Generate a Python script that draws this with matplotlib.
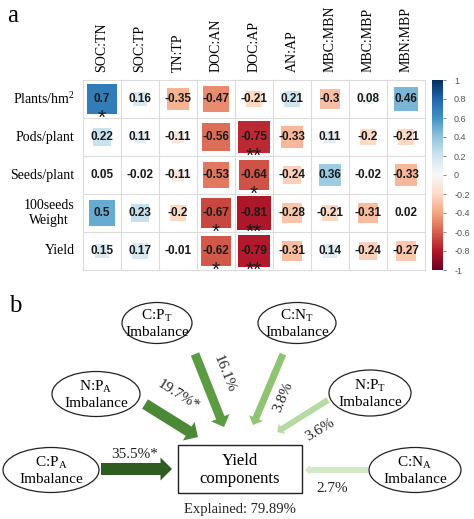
"""
Correlation squares (a) and contribution diagram (b)
"""
import numpy as np
import matplotlib
matplotlib.use('Agg')
import matplotlib.pyplot as plt
from matplotlib.patches import Rectangle, Ellipse, FancyArrow
from matplotlib.colors import Normalize
from matplotlib.cm import ScalarMappable

### Panel a data
row_names = ['Plants/hm$^2$', 'Pods/plant', 'Seeds/plant', '100seeds\nWeight', 'Yield']
col_names = ['SOC:TN', 'SOC:TP', 'TN:TP', 'DOC:AN', 'DOC:AP',
             'AN:AP', 'MBC:MBN', 'MBC:MBP', 'MBN:MBP']
corr_plants = [0.7, 0.16, -0.35, -0.47, -0.21, 0.21, -0.3, 0.08, 0.46]
corr_pods = [0.22, 0.11, -0.11, -0.56, -0.75, -0.33, 0.11, -0.2, -0.21]
corr_seeds = [0.05, -0.02, -0.11, -0.53, -0.64, -0.24, 0.36, -0.02, -0.33]
corr_100w = [0.5, 0.23, -0.2, -0.67, -0.81, -0.28, -0.21, -0.31, 0.02]
corr_yield = [0.15, 0.17, -0.01, -0.62, -0.79, -0.31, 0.14, -0.24, -0.27]
# (row, col, stars)
signif = [(0, 0, '*'), (1, 4, '**'), (2, 4, '*'), (3, 3, '*'), (3, 4, '**'),
          (4, 3, '*'), (4, 4, '**')]

### Panel b data
node_names = ['C:P$_{\\rm A}$', 'N:P$_{\\rm A}$', 'C:P$_{\\rm T}$',
              'C:N$_{\\rm T}$', 'N:P$_{\\rm T}$', 'C:N$_{\\rm A}$']
contrib = [35.5, 19.7, 16.1, 3.8, 3.6, 2.7]
contrib_sig = ['*', '*', '', '', '', '']
explained = 79.89

SERIF = 'Liberation Serif'
SANS = 'Liberation Sans'


def main():
    plt.rcParams['mathtext.fontset'] = 'custom'
    plt.rcParams['mathtext.rm'] = SERIF
    plt.rcParams['mathtext.it'] = SERIF + ':italic'
    plt.rcParams['font.family'] = SERIF

    W, H = 474, 519
    fig = plt.figure(figsize=(W/100, H/100), dpi=100)

    ### background axes in pixel units (panel b + panel letters)
    ax0 = fig.add_axes([0, 0, 1, 1])
    ax0.set_xlim(0, W)
    ax0.set_ylim(H, 0)
    ax0.axis('off')

    ### ---- panel a
    gl, gr, gt, gb = 83, 425, 80, 270
    ax = fig.add_axes([gl/W, 1-gb/H, (gr-gl)/W, (gb-gt)/H])
    ax.set_xlim(0, 9)
    ax.set_ylim(5, 0)
    ax.axis('off')

    cmap = plt.get_cmap('RdBu')
    norm = Normalize(-1, 1)
    corr = np.array([corr_plants, corr_pods, corr_seeds, corr_100w, corr_yield])
    nr, nc = corr.shape

    for k in range(nr+1):
        ax.plot([0, nc], [k, k], color='#dcdcdc', lw=0.8, zorder=1, clip_on=False)
    for k in range(nc+1):
        ax.plot([k, k], [0, nr], color='#dcdcdc', lw=0.8, zorder=1, clip_on=False)

    for i in range(nr):
        for j in range(nc):
            v = corr[i, j]
            s = np.sqrt(abs(v))*0.97
            ax.add_patch(Rectangle((j+0.5-s/2, i+0.5-s/2), s, s,
                                   facecolor=cmap(norm(v)), edgecolor='none', zorder=2))
            ax.text(j+0.5, i+0.5, '{:g}'.format(v), ha='center', va='center',
                    fontsize=8.5, fontweight='bold', family=SANS, color='#1a1a1a', zorder=3)
    for i, j, st in signif:
        ax.text(j+0.5, i+1.16, st, ha='center', va='baseline', fontsize=15,
                family=SANS, color='#1a1a1a', zorder=4)

    for i, name in enumerate(row_names):
        ax.text(-0.22, i+0.5, name, ha='right', va='center', fontsize=10,
                multialignment='center', linespacing=1.25)
    for j, name in enumerate(col_names):
        ax.text(j+0.5, -0.2, name, ha='center', va='bottom', rotation=90, fontsize=10)

    cax = fig.add_axes([432/W, 1-gb/H, 11/W, (gb-gt)/H])
    cb = fig.colorbar(ScalarMappable(norm=norm, cmap=cmap), cax=cax,
                      ticks=np.linspace(-1, 1, 11))
    cb.outline.set_visible(False)
    cb.ax.set_yticklabels(['{:g}'.format(round(t, 1)+0.0) for t in np.linspace(-1, 1, 11)])
    cb.ax.tick_params(labelsize=6.5, colors='#555555', length=2, width=0.5, pad=6)
    for lab in cb.ax.get_yticklabels():
        lab.set_family(SANS)

    ax0.text(7, 16, 'a', fontsize=18, ha='left', va='center')

    ### ---- panel b
    ax0.text(9, 306, 'b', fontsize=18, ha='left', va='center')

    # node layout: centre x, centre y, width, height
    nodes = [(51, 470, 96, 45), (96, 394, 88, 45), (157, 323, 70, 41),
             (297, 323, 78, 41), (370, 393, 82, 46), (415, 470, 92, 45)]
    for (cx, cy, w, h), name in zip(nodes, node_names):
        ax0.add_patch(Ellipse((cx, cy), w, h, facecolor='white', edgecolor='#222222', lw=0.9))
        ax0.text(cx, cy-3, name, ha='center', va='baseline', fontsize=11)
        ax0.text(cx, cy+13, 'Imbalance', ha='center', va='baseline', fontsize=11)

    ax0.add_patch(Rectangle((178, 445), 124, 48, facecolor='white', edgecolor='#222222', lw=1.0))
    ax0.text(240, 461, 'Yield', ha='center', va='center', fontsize=12)
    ax0.text(240, 479, 'components', ha='center', va='center', fontsize=12)
    ax0.text(240, 510, 'Explained: {:.2f}%'.format(explained), ha='center',
             va='center', fontsize=10.5, color='#222222')

    # arrows: start, end, shaft width, head width, colour
    arrows = [((101, 469), (172, 469), 12, 23, '#2f5d21'),
              ((145, 404), (198, 437), 11, 22, '#4a8935'),
              ((195, 354), (224, 427), 9, 20, '#5b9c43'),
              ((283, 354), (253, 425), 7, 15, '#8fc572'),
              ((328, 400), (277, 432), 6, 12, '#b6daa3'),
              ((368, 470), (305, 470), 6, 10, '#d3e9c6')]
    # label position and rotation
    labpos = [(135, 455, 0), (178, 395, -32), (224, 374, -68),
              (283, 397, 67), (320, 430, 31), (332, 488, 0)]
    for (p0, p1, sw, hw, c), (lx, ly, rot), val, sg in zip(arrows, labpos, contrib, contrib_sig):
        dx, dy = p1[0]-p0[0], p1[1]-p0[1]
        ax0.add_patch(FancyArrow(p0[0], p0[1], dx, dy, width=sw, head_width=hw,
                                 head_length=hw*0.5, length_includes_head=True,
                                 facecolor=c, edgecolor='none'))
        ax0.text(lx, ly, '{:.1f}%{}'.format(val, sg), ha='center', va='center',
                 rotation=rot, rotation_mode='anchor', fontsize=11, color='#222222')

    fig.savefig('out.png', dpi=100)


if __name__ == '__main__':
    main()
